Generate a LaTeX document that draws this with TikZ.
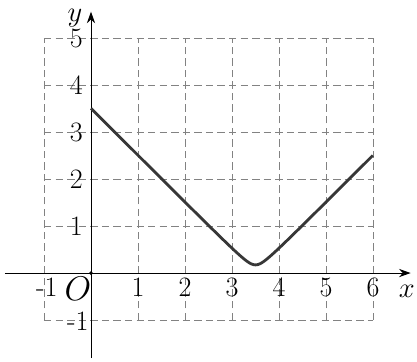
\documentclass[tikz,border=0pt]{standalone}
\usetikzlibrary{arrows.meta}
\usepackage{xcolor}
\definecolor{ggrid}{RGB}{130, 130, 130}
\definecolor{gcurve}{RGB}{55, 55, 55}

\begin{document}
\begin{tikzpicture}[
  gridline/.style={ggrid, thin, dash pattern=on 4.5pt off 2.5pt},
  axis/.style={-{Stealth[length=7pt, width=5pt]}, black, semithick},
  ticklab/.style={inner sep=0pt, font=\fontsize{17}{19}\selectfont},
  curve/.style={gcurve, line width=1.7pt, line join=round}
]
\useasboundingbox (-1.936,-1.872) rectangle (6.936,5.809);

% dashed grid
\foreach \gx in {-1,1,2,3,4,5,6}
  \draw[gridline] (\gx,-1) -- (\gx,5);
\foreach \gy in {-1,1,2,3,4,5}
  \draw[gridline] (-1,\gy) -- (6,\gy);

% axes
\coordinate (xs) at (-1.83,0);
\coordinate (xe) at (6.8,0);
\coordinate (ys) at (0,-1.81);
\coordinate (ye) at (0,5.56);
\draw[axis] (xs) -- (xe);
\draw[axis] (ys) -- (ye);
\node[font=\fontsize{19}{21}\selectfont, inner sep=0pt] (xlab) at (6.72,-0.38) {$x$};
\node[font=\fontsize{18}{20}\selectfont, inner sep=0pt] (ylab) at (-0.34,5.43) {$y$};
\node[font=\fontsize{20}{22}\selectfont, inner sep=0pt] (orig) at (-0.28,-0.34) {$O$};
\fill (0,0) circle (1.2pt);

% tick labels
\foreach \tx in {1,...,6}
  \node[ticklab] (xt\tx) at (\tx,-0.3) {\tx};
\node[ticklab] (xtm) at (-0.94,-0.3) {-1};
\foreach \ty in {1,...,5}
  \node[ticklab] (yt\ty) at (-0.31,\ty) {\ty};
\node[ticklab] (ytm) at (-0.28,-1.02) {-1};

% graph
\draw[curve] plot[domain=0:6, samples=200, smooth] (\x, {sqrt((\x-3.5)^2+0.03)});

\end{tikzpicture}
\end{document}
